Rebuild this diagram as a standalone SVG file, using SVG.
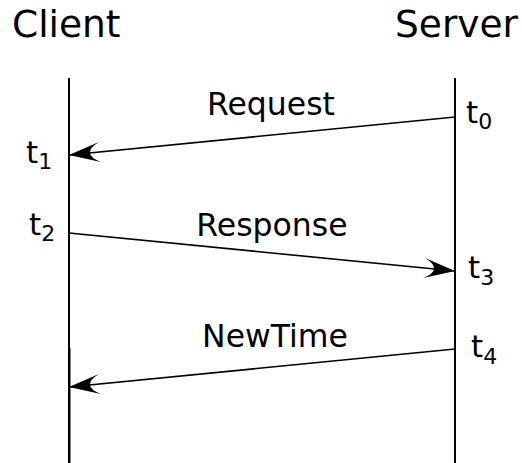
<svg xmlns="http://www.w3.org/2000/svg" width="522" height="463" viewBox="0 0 522 463">
<style>
text{font-family:"DejaVu Sans","Noto Sans",sans-serif;fill:#000}
.title{font-size:37.5px}
.lbl{font-size:31.5px}
.t{font-size:31px}
.sub{font-size:22px}
.life{stroke:#000;stroke-width:2;fill:none}
.msg{stroke:#000;stroke-width:1.6;fill:none;marker-end:url(#ah)}
</style>
<defs>
<marker id="ah" markerUnits="userSpaceOnUse" markerWidth="40" markerHeight="26" viewBox="-34 -13 36 26" refX="0" refY="0" orient="auto">
<path d="M0,0 L-31,-10 Q-11,0 -31,10 Z" fill="#000"/>
</marker>
</defs>
<g id="client">
<text class="title" x="12" y="37">Client</text>
<line class="life" x1="69" y1="78" x2="69" y2="463"/>
<line class="life" x1="69.3" y1="348" x2="69.3" y2="463" style="stroke-width:2.4"/>
</g>
<g id="server">
<text class="title" x="395" y="37">Server</text>
<line class="life" x1="455" y1="78" x2="455" y2="463"/>
</g>
<g id="times">
<text class="t" x="466" y="123">t<tspan class="sub" dy="6">0</tspan></text>
<text class="t" x="26" y="163">t<tspan class="sub" dy="6">1</tspan></text>
<text class="t" x="29" y="235">t<tspan class="sub" dy="6">2</tspan></text>
<text class="t" x="468" y="278">t<tspan class="sub" dy="7">3</tspan></text>
<text class="t" x="471" y="357">t<tspan class="sub" dy="7">4</tspan></text>
</g>
<g id="connectors">
<line class="msg" x1="455" y1="117" x2="69" y2="155"/>
<line class="msg" x1="69" y1="233" x2="455" y2="271"/>
<line class="msg" x1="455" y1="349" x2="69" y2="387"/>
</g>
<g id="labels">
<text class="lbl" x="271" y="115" text-anchor="middle">Request</text>
<text class="lbl" x="272" y="236" text-anchor="middle">Response</text>
<text class="lbl" x="275" y="347" text-anchor="middle">NewTime</text>
</g>
</svg>
